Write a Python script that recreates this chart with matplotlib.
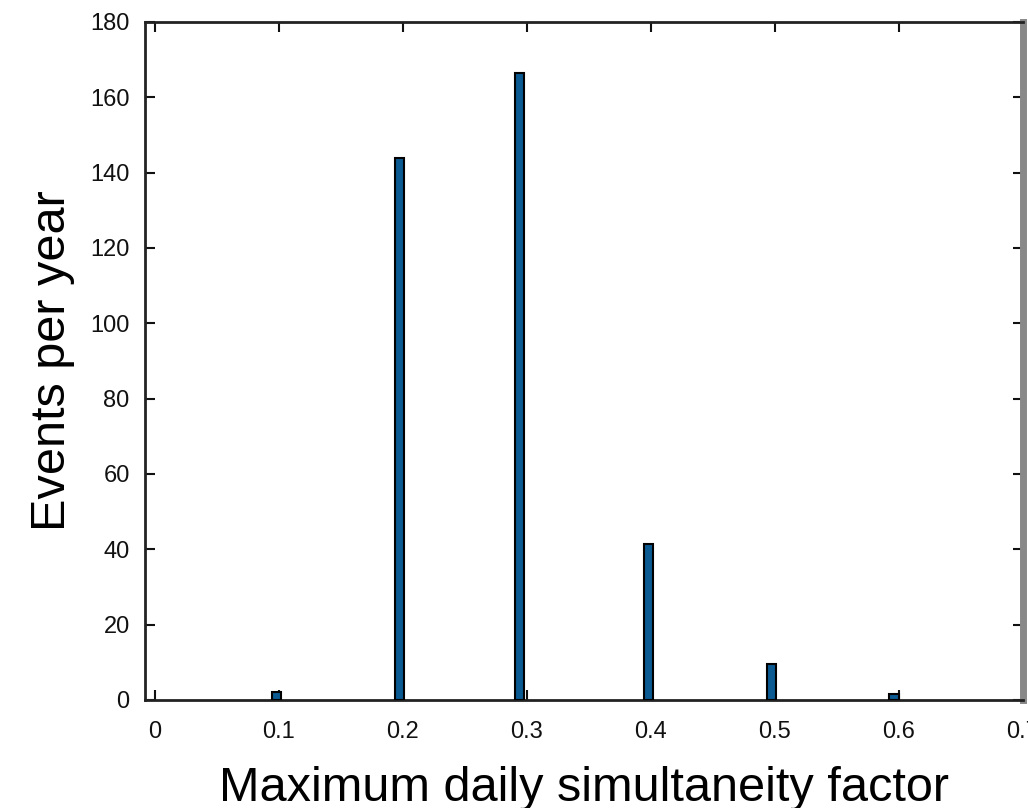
import matplotlib
matplotlib.use("Agg")
import matplotlib.pyplot as plt
import numpy as np

factor = [0.098, 0.197, 0.294, 0.398, 0.497, 0.596]
events = [2.0, 144.0, 166.5, 41.5, 9.5, 1.5]
yticks = [0, 20, 40, 60, 80, 100, 120, 140, 160, 180]
xticks = [0, 0.1, 0.2, 0.3, 0.4, 0.5, 0.6, 0.7]
xlabels = ["0", "0.1", "0.2", "0.3", "0.4", "0.5", "0.6", "0.7"]

plt.rcParams['font.family'] = ['Liberation Sans', 'DejaVu Sans']

fig = plt.figure(figsize=(10.28, 8.08), dpi=100)
ax = fig.add_axes([145 / 1028, 108 / 808, 878 / 1028, 678 / 808])

ax.bar(factor, events, width=0.0075, color='#0b5a92', edgecolor='black', linewidth=1.5, zorder=3)

ax.set_xlim(-0.008, 0.7)
ax.set_ylim(0, 180)
ax.set_xticks(xticks)
ax.set_xticklabels(xlabels)
ax.set_yticks(yticks)
ax.tick_params(direction='in', top=True, right=True, length=7, width=1.5,
               labelsize=17, colors='#111111')
ax.tick_params(axis='x', pad=15)
ax.tick_params(axis='y', pad=11)
for s in ax.spines.values():
    s.set_linewidth(2)
    s.set_color('#222222')
ax.spines['right'].set_color('#888888')
ax.spines['right'].set_linewidth(5)

ax.set_xlabel("Maximum daily simultaneity factor", fontsize=35, labelpad=17)
ax.set_ylabel("Events per year", fontsize=35, labelpad=11)

fig.savefig("out.png", dpi=100)
